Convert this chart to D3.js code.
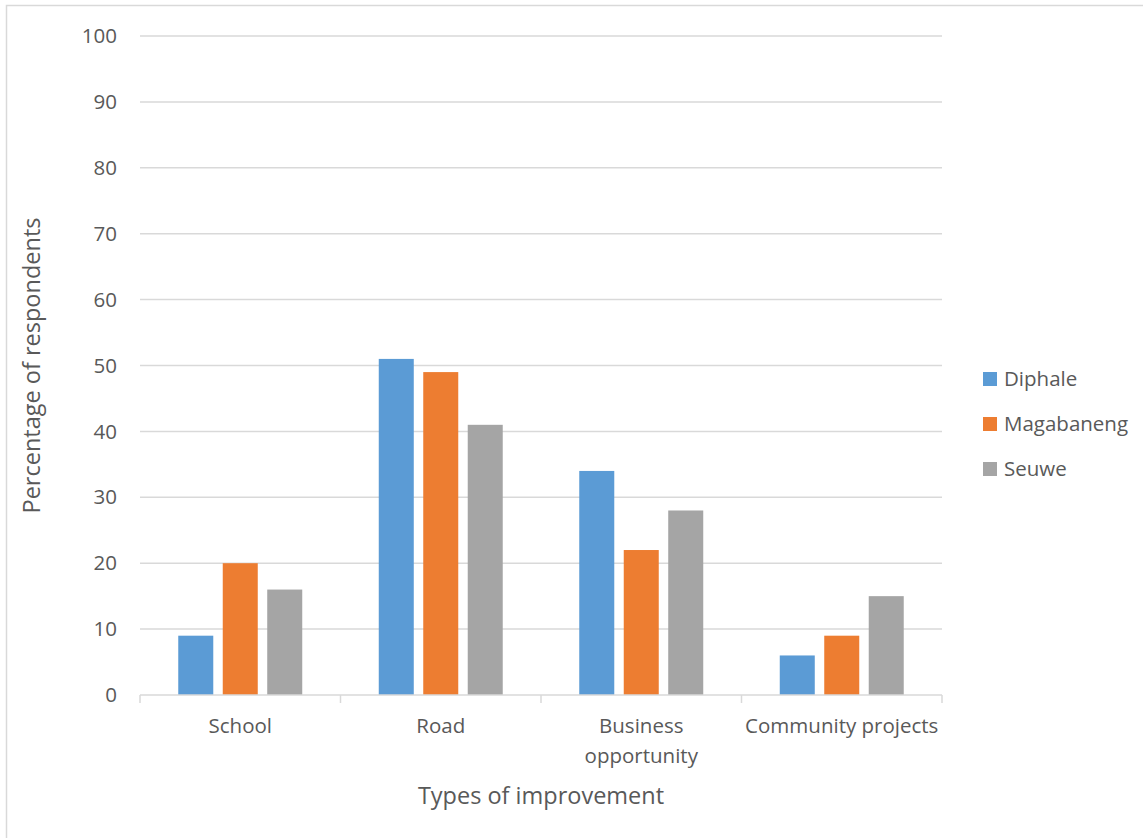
<!DOCTYPE html>
<html>
<head>
<meta charset="utf-8">
<script src="https://cdn.jsdelivr.net/npm/d3@7"></script>
<style>
  html, body { margin: 0; padding: 0; background: #fff; }
  svg { display: block; }
  text { font-family: "Open Sans", "Noto Sans", sans-serif; fill: #595959; }
</style>
</head>
<body>
<svg id="chart" width="1143" height="838"></svg>
<script>
const categories = [["School"], ["Road"], ["Business", "opportunity"], ["Community projects"]];
const seriesNames = ["Diphale", "Magabaneng", "Seuwe"];
const diphale = [9, 51, 34, 6];
const magabaneng = [20, 49, 22, 9];
const seuwe = [16, 41, 28, 15];
const yTicks = [0, 10, 20, 30, 40, 50, 60, 70, 80, 90, 100];
const colors = ["#5b9bd5", "#ed7d31", "#a5a5a5"];

const seriesValues = [diphale, magabaneng, seuwe];
const catKeys = categories.map(c => c.join(" "));

const svg = d3.select("#chart");

// chart frame
svg.append("rect")
  .attr("x", 6.5).attr("y", 5.5)
  .attr("width", 1200).attr("height", 900)
  .attr("fill", "none").attr("stroke", "#d9d9d9").attr("stroke-width", 1.5);

const plot = { left: 140, right: 942, top: 36, bottom: 695 };

const x = d3.scaleBand().domain(catKeys).range([plot.left, plot.right]).paddingInner(0).paddingOuter(0);
const y = d3.scaleLinear().domain([0, 100]).range([plot.bottom, plot.top]);
const xs = d3.scaleBand().domain(seriesNames).range([0, x.bandwidth()]).paddingInner(0.213).paddingOuter(0.86);

// gridlines
svg.append("g").selectAll("line").data(yTicks.filter(d => d > 0)).join("line")
  .attr("x1", plot.left).attr("x2", plot.right)
  .attr("y1", d => y(d)).attr("y2", d => y(d))
  .attr("stroke", "#d9d9d9").attr("stroke-width", 1.5);

// y tick labels
svg.append("g").selectAll("text").data(yTicks).join("text")
  .attr("x", plot.left - 23).attr("y", d => y(d))
  .attr("dy", "0.35em").attr("text-anchor", "end")
  .style("font-size", "20.5px")
  .text(d => d);

// bars
const groups = svg.append("g").selectAll("g").data(seriesNames).join("g")
  .attr("fill", (d, i) => colors[i]);
groups.selectAll("rect").data((s, i) => seriesValues[i].map((v, j) => ({ s, v, c: catKeys[j] }))).join("rect")
  .attr("x", d => x(d.c) + xs(d.s))
  .attr("width", xs.bandwidth())
  .attr("y", d => y(d.v))
  .attr("height", d => y(0) - y(d.v));

// x axis line and tick marks
const xAxis = svg.append("g");
xAxis.append("line")
  .attr("x1", plot.left).attr("x2", plot.right)
  .attr("y1", plot.bottom).attr("y2", plot.bottom)
  .attr("stroke", "#d9d9d9").attr("stroke-width", 1.5);
const bounds = catKeys.map(k => x(k)).concat([plot.right]);
xAxis.selectAll("line.tick").data(bounds).join("line")
  .attr("class", "tick")
  .attr("x1", d => d).attr("x2", d => d)
  .attr("y1", plot.bottom).attr("y2", plot.bottom + 8)
  .attr("stroke", "#d9d9d9").attr("stroke-width", 1.5);

// category labels
const catLabels = svg.append("g").selectAll("text").data(categories).join("text")
  .attr("x", (d, i) => x(catKeys[i]) + x.bandwidth() / 2)
  .attr("y", 733)
  .attr("text-anchor", "middle")
  .style("font-size", "20.5px");
catLabels.selectAll("tspan").data(d => d).join("tspan")
  .attr("x", function () { return d3.select(this.parentNode).attr("x"); })
  .attr("dy", (d, i) => i === 0 ? 0 : 30)
  .text(d => d);

// axis titles
svg.append("text")
  .attr("x", (plot.left + plot.right) / 2).attr("y", 804)
  .attr("text-anchor", "middle")
  .style("font-size", "23.5px")
  .text("Types of improvement");

svg.append("text")
  .attr("transform", `translate(40, ${(plot.top + plot.bottom) / 2}) rotate(-90)`)
  .attr("text-anchor", "middle")
  .style("font-size", "23.5px")
  .text("Percentage of respondents");

// legend
const legend = svg.append("g").selectAll("g").data(seriesNames).join("g")
  .attr("transform", (d, i) => `translate(983, ${379 + i * 45})`);
legend.append("rect")
  .attr("x", 0).attr("y", -7).attr("width", 14).attr("height", 14)
  .attr("fill", (d, i) => colors[i]);
legend.append("text")
  .attr("x", 21).attr("y", 0).attr("dy", "0.35em")
  .style("font-size", "20.5px")
  .text(d => d);
</script>
</body>
</html>
